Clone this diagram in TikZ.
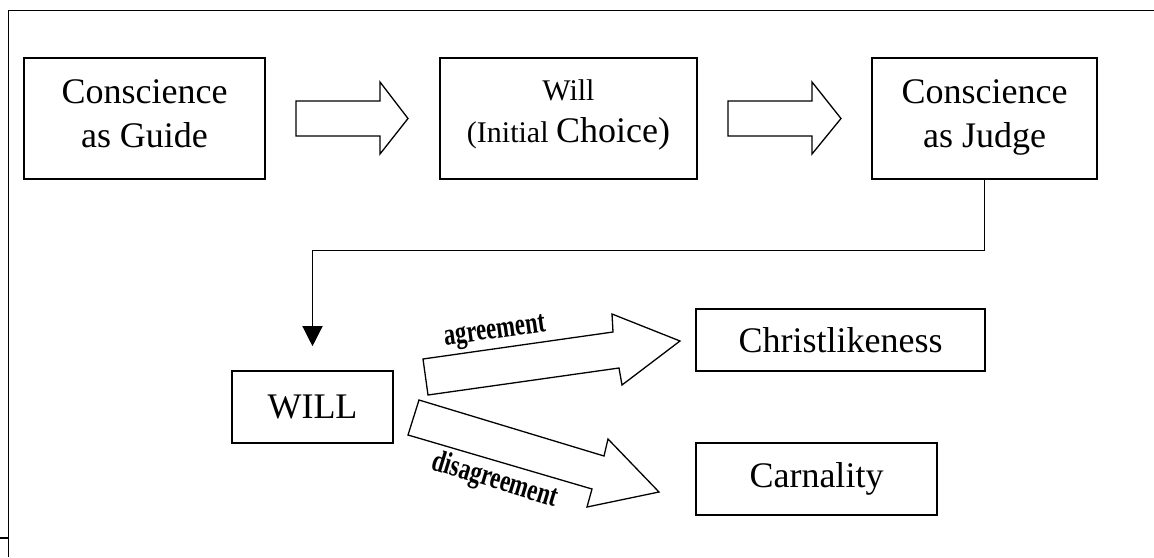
\documentclass[tikz,border=0pt]{standalone}
\usepackage{fontspec}
\usepackage{graphicx}
\setmainfont{Liberation Serif}
\usetikzlibrary{arrows.meta}
\newcommand{\lowstrut}[1]{\rule[-#1]{0pt}{0pt}}
\newcommand{\tallword}[1]{\scalebox{0.95}[1.3]{#1}}
\begin{document}
\begin{tikzpicture}[x=1pt,y=-1pt,
  box/.style={draw, line width=1.6pt, inner sep=0pt, align=center,
    font=\fontsize{36}{44}\selectfont},
  blockarrow/.style={draw, line width=1.3pt, fill=white, line join=miter},
  lbl/.style={font=\bfseries\fontsize{24}{24}\selectfont, inner sep=0pt},
  frame/.style={line width=1.8pt}]
\useasboundingbox (0,0) rectangle (1154,557);
% frame
\draw[frame] (8.5,557) -- (8.5,10.5) -- (1154,10.5);
\draw[frame] (0,538) -- (8.5,538);
% boxes
\node[box, minimum width=241pt, minimum height=121pt] (guide) at (144.5,118.5) {Conscience\\as Guide\lowstrut{9pt}};
\node[box, minimum width=257pt, minimum height=121pt, font=\fontsize{30}{42}\selectfont] (initial) at (568.5,118.5)
  {Will\\(Initial {\fontsize{36}{42}\selectfont Choice)}\lowstrut{15pt}};
\node[box, minimum width=225pt, minimum height=121pt] (judge) at (984.5,118.5) {Conscience\\as Judge\lowstrut{9pt}};
\node[box, minimum width=161pt, minimum height=72pt] (will) at (312.5,407) {WILL};
\node[box, minimum width=289pt, minimum height=62pt] (christ) at (840.5,340) {Christlikeness};
\node[box, minimum width=241pt, minimum height=72pt] (carnal) at (816.5,479) {Carnality};
% block arrows
\draw[blockarrow] (296,101) -- (380,101) -- (380,82) -- (408,118.5) -- (380,154) -- (380,136) -- (296,136) -- cycle;
\draw[blockarrow] (728,101) -- (812,101) -- (812,82) -- (841,118.5) -- (812,154) -- (812,136) -- (728,136) -- cycle;
\draw[blockarrow] (423,359) -- (613,332) -- (612,314) -- (680,341) -- (622,385) -- (619,368) -- (428,395) -- cycle;
\draw[blockarrow] (419,400) -- (604,456) -- (608,439) -- (659,492) -- (587,507) -- (592,489) -- (408,435) -- cycle;
% labels
\node[lbl, rotate=8] (agr) at (495,333) {\tallword{agreement}};
\node[lbl, rotate=-17] (dis) at (495,481) {\tallword{disagreement}};
% connector
\coordinate (willin) at ([yshift=24pt]will.north);
\draw[line width=1.3pt, -{Triangle[width=20pt,length=20pt]}] (judge.south) -- ++(0,71) -| (willin);
\end{tikzpicture}
\end{document}
